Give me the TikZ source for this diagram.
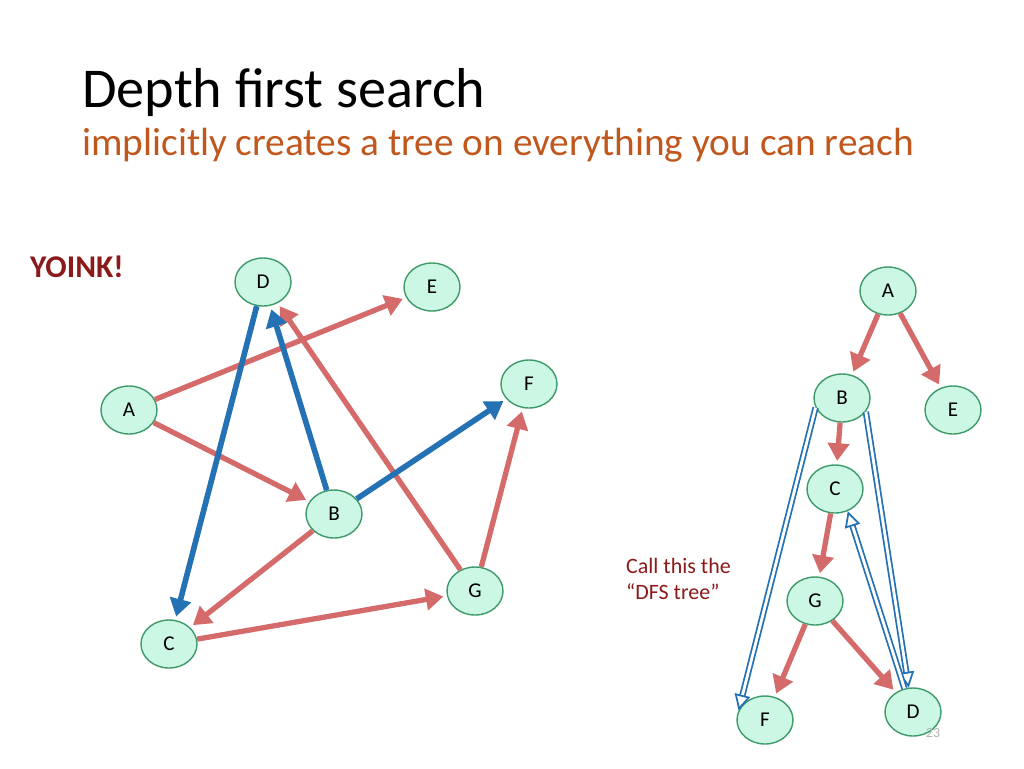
\documentclass[tikz,border=0pt]{standalone}
\usepackage{fontspec}
\setmainfont{Carlito}
\usetikzlibrary{arrows.meta,shapes.geometric}
\definecolor{nodefill}{HTML}{CCF7E4}
\definecolor{nodeline}{HTML}{3F9A6A}
\definecolor{redge}{HTML}{D46A6A}
\definecolor{bedge}{HTML}{2471B3}
\definecolor{subcol}{HTML}{C0581E}
\definecolor{darkred}{HTML}{8B1A1A}
\begin{document}
\begin{tikzpicture}
        [x=0.02cm, y=-0.02cm,
        vertex/.style={ellipse, draw=nodeline, thick, fill=nodefill, minimum width=1.12cm, minimum height=0.96cm, font=\fontsize{12}{12}\selectfont, inner sep=0pt},
        tree/.style={redge, line width=3pt, -{Triangle[length=10pt,width=12pt]}, shorten >=2pt},
        back/.style={bedge, line width=3.2pt, -{Triangle[length=10pt,width=12pt]}, shorten >=2pt},
        walk/.style={bedge, double=white, double distance=1.6pt, line width=1pt, -{Triangle[open,length=9pt,width=9pt]}}]

        \useasboundingbox (0,0) rectangle (1024,768);
        \fill[white] (0,0) rectangle (1024,768);

        % title
        \node[anchor=west, font=\fontsize{32}{32}\selectfont] (title) at (76,93) {Depth first search};
        \node[anchor=west, text=subcol, font=\fontsize{22.4}{22.4}\selectfont] (sub) at (76,145) {implicitly creates a tree on everything you can reach};
        \node[anchor=west, text=darkred, font=\fontsize{18}{18}\selectfont\bfseries] (yoink) at (24,267) {YOINK!};

        % left graph
        \node[vertex] (a) at (129,410) {A};
        \node[vertex] (d) at (263,282) {D};
        \node[vertex] (e) at (432,287) {E};
        \node[vertex] (f) at (529,384) {F};
        \node[vertex] (b) at (334,514) {B};
        \node[vertex] (g) at (475,591) {G};
        \node[vertex] (c) at (169,644) {C};

        \draw[tree] (a) -- (e);
        \draw[tree] (a) -- (b);
        \draw[tree] (b) -- (c);
        \draw[tree] (c) -- (g);
        \draw[tree] (g) -- (f);
        \draw[tree] (g) -- (d);
        \draw[back] (b) -- (d);
        \draw[back] (d) -- (c);
        \draw[back] (b) -- (f);

        % right tree
        \node[vertex] (ta) at (888,291) {A};
        \node[vertex] (tb) at (842,398) {B};
        \node[vertex] (te) at (953,410) {E};
        \node[vertex] (tc) at (835,489) {C};
        \node[vertex] (tg) at (815,601) {G};
        \node[vertex] (tf) at (765,720) {F};
        \node[vertex] (td) at (913,712) {D};

        \draw[tree] (ta) -- (tb);
        \draw[tree] (ta) -- (te);
        \draw[tree] (tb) -- (tc);
        \draw[tree] (tc) -- (tg);
        \draw[tree] (tg) -- (tf);
        \draw[tree] (tg) -- (td);

        % the walk
        \draw[walk] (tb.200) -- (tf.160);
        \draw[walk] (tb.330) -- (td.100);
        \draw[walk] (td.110) -- (tc.300);

        \node[anchor=west, text=darkred, align=left, font=\fontsize{12.5}{14.5}\selectfont] (note) at (620,579) {Call this the\\“DFS tree”};
        \node[text=gray!60, font=\fontsize{8}{8}\selectfont] (page) at (933,733) {23};
\end{tikzpicture}
\end{document}
